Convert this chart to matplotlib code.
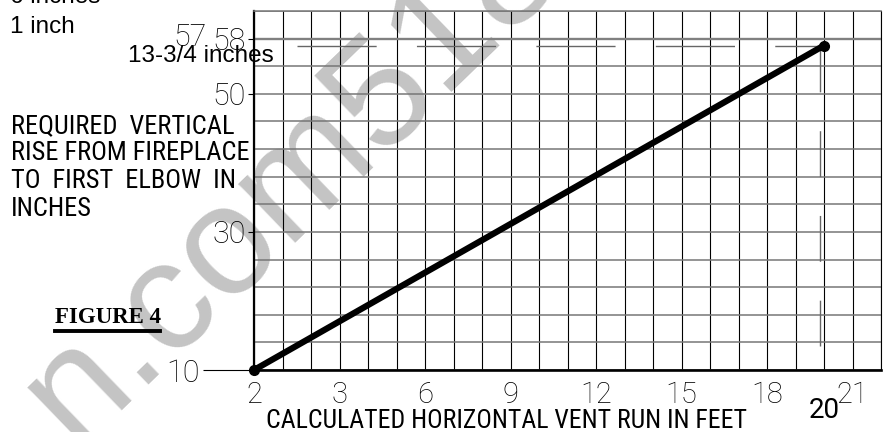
import numpy as np
import matplotlib.pyplot as plt
from matplotlib.lines import Line2D

# chart values (x is in grid columns: column 0 is the 2 ft mark)
run_pos = [0, 20]
rise_in = [10, 57]
x_tick_pos = [0, 3, 6, 9, 12, 15, 18, 21]
x_tick_labels = ['2', '3', '6', '9', '12', '15', '18', '21']
y_tick_pos = [10, 30, 50, 58]
y_tick_labels = ['10', '30', '50', '58']
ref_rise = 57
ref_run = 19.85
left_lines = ['REQUIRED  VERTICAL', 'RISE FROM FIREPLACE', 'TO  FIRST  ELBOW  IN', 'INCHES']

NUM_FONT = ['Roboto', 'DejaVu Sans']
NARROW = ['Roboto Condensed', 'Liberation Sans']
W, H = 883, 432

fig = plt.figure(figsize=(W / 100, H / 100), dpi=100)
ax = fig.add_axes([254 / W, 62 / H, 627 / W, 359 / H])
ax.patch.set_visible(False)
ax.set_xlim(0, 22)
ax.set_ylim(10, 62)

# watermark behind everything
fig.text(292 / W, 1 - 180 / H, 'n.com518', fontsize=112, color='#c4c4c4',
         family='Liberation Sans', rotation=44,
         rotation_mode='anchor', ha='center', va='center', zorder=-5)

# grid
ax.set_xticks(x_tick_pos)
ax.set_xticklabels(x_tick_labels)
ax.set_xticks(range(23), minor=True)
ax.set_yticks(y_tick_pos)
ax.set_yticklabels(y_tick_labels)
ax.set_yticks(np.arange(10, 63, 4), minor=True)
ax.grid(which='both', axis='x', color='black', lw=0.8)
ax.grid(which='both', axis='y', color='#777777', lw=1.1)
ax.axhline(58, color='#808080', lw=1.7)

ax.spines['top'].set_color('#777777')
ax.spines['top'].set_linewidth(1.1)
ax.spines['right'].set_linewidth(0.8)
ax.spines['left'].set_linewidth(1.6)
ax.spines['bottom'].set_linewidth(1.9)

ax.tick_params(which='minor', length=0)
ax.tick_params(axis='x', which='major', length=0, pad=8, labelsize=21)
ax.tick_params(axis='y', which='major', length=4, width=0.8, pad=2, labelsize=22)
for lab in ax.get_xticklabels() + ax.get_yticklabels():
    lab.set_fontfamily(NUM_FONT)
    lab.set_fontweight('light')

# reference lines
ax.plot([1.5, ref_run + 0.15], [ref_rise, ref_rise], color='#666666', lw=1,
        dashes=(57, 29))
ax.plot([ref_run, ref_run], [ref_rise, 8.4], color='#666666', lw=1,
        dashes=(33, 28), clip_on=False)

# the curve
ax.plot(run_pos, rise_in, color='black', lw=4.5, solid_capstyle='round',
        marker='o', ms=7, clip_on=False, zorder=5)

ax.text(20, 4.1, '20', ha='center', va='center', fontsize=20,
        family=NUM_FONT)
fig.text(207 / W, 1 - 37 / H, '57', ha='right', va='center', fontsize=22,
         family=NUM_FONT, fontweight='light')

# long tick for the 10 label
t0 = ax.yaxis.get_major_ticks()[0]
t0.set_pad(35)
t0.tick1line.set_markersize(37)

# texts
fig.text(10 / W, 1 - 3 / H, '6 inches', fontsize=17.5, family='Liberation Sans')
fig.text(10 / W, 1 - 33 / H, '1 inch', fontsize=17.5, family='Liberation Sans')
fig.text(128 / W, 1 - 62 / H, '13-3/4 inches', fontsize=17.5, family='Liberation Sans')
for i, line in enumerate(left_lines):
    fig.text(11 / W, 1 - (133 + 27.5 * i) / H, line, fontsize=19, family=NARROW)

fig.text(506 / W, 1 - 428 / H, 'CALCULATED HORIZONTAL VENT RUN IN FEET',
         ha='center', fontsize=18.5, family=NARROW)

fig.text(55 / W, 1 - 323 / H, 'FIGURE 4', fontsize=16.5, family='Liberation Serif',
         fontweight='bold')
fig.add_artist(Line2D([55 / W, 160 / W], [1 - 330.5 / H] * 2, color='black', lw=2.8))

fig.savefig('out.png', dpi=100)
